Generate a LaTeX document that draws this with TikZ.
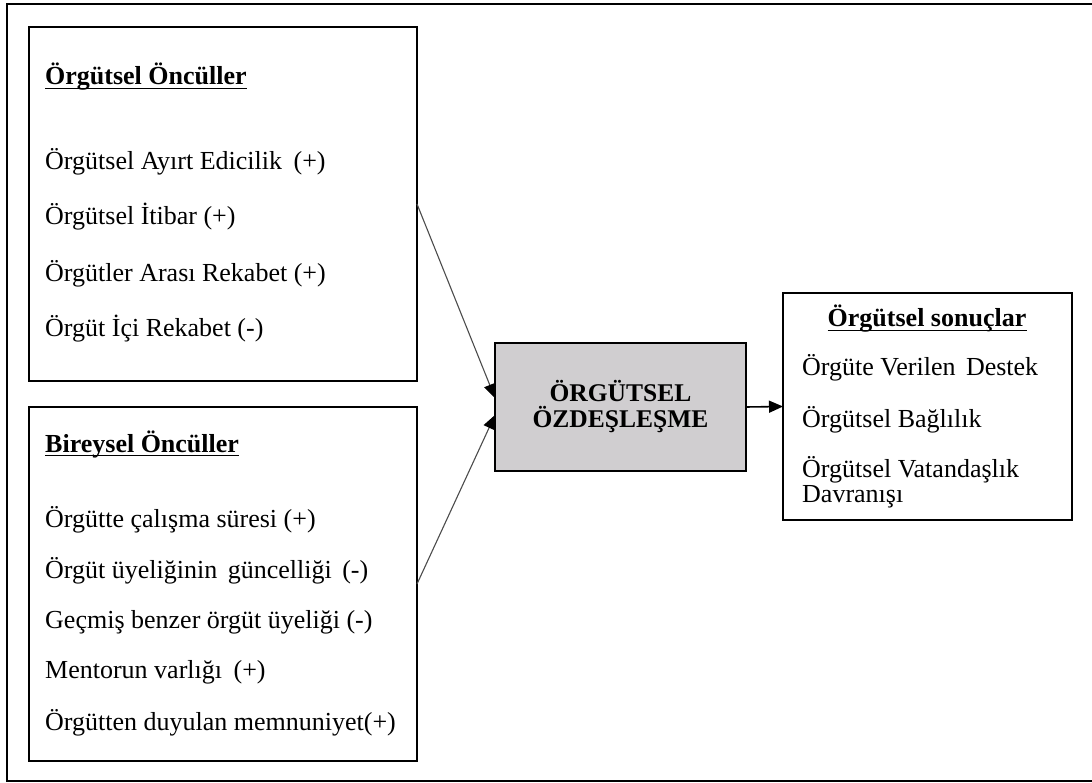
\documentclass[tikz,border=0pt]{standalone}
\usepackage{fontspec}
\setmainfont{Liberation Serif}
\usetikzlibrary{arrows.meta}
\definecolor{boxgray}{RGB}{208,206,208}
\begin{document}
\begin{tikzpicture}[x=1pt,y=-1pt,
  frame/.style={draw=black,line width=2pt,inner sep=0pt,outer sep=0pt,anchor=north west},
  txt/.style={anchor=base west,inner sep=0pt,font=\fontsize{26}{26}\selectfont},
  ttl/.style={anchor=base west,inner sep=0pt,font=\fontsize{26}{26}\selectfont\bfseries},
  uline/.style={line width=1.4pt},
  link/.style={draw=black!70,line width=1.1pt,-{Triangle[length=14pt,width=12pt,color=black]}},
  flow/.style={draw=black,line width=1.6pt,-{Triangle[length=14pt,width=12pt]}},
]
\useasboundingbox (0,0) rectangle (1092,783);
\draw[line width=2.5pt] (1092,4) -- (7,4) -- (7,781) -- (1092,781);

% boxes
\node[frame,minimum width=388pt,minimum height=354pt] (tl) at (29,27) {};
\node[frame,minimum width=388pt,minimum height=354pt] (bl) at (29,407) {};
\node[frame,fill=boxgray,minimum width=251pt,minimum height=128pt,
      font=\fontsize{25.5}{26}\selectfont\bfseries,align=center] (gz) at (495,343)
      {ÖRGÜTSEL\\ÖZDEŞLEŞME};
\node[frame,minimum width=289pt,minimum height=227pt] (rb) at (783,293) {};

% top-left texts
\node[ttl] (t0) at (45,85) {Örgütsel Öncüller};
\node[txt] (t1) at (45,170) {Örgütsel Ayırt Edicilik\hspace{5pt} (+)};
\node[txt] (t2) at (45,225) {Örgütsel İtibar (+)};
\node[txt] (t3) at (45,282) {Örgütler Arası Rekabet (+)};
\node[txt] (t4) at (45,337) {Örgüt İçi Rekabet (-)};

% bottom-left texts
\node[ttl] (b0) at (45,452) {Bireysel Öncüller};
\node[txt] (b1) at (45,527) {Örgütte çalışma süresi (+)};
\node[txt] (b2) at (45,578) {Örgüt üyeliğinin\hspace{4pt} güncelliği\hspace{4pt} (-)};
\node[txt] (b3) at (45,628) {Geçmiş benzer örgüt üyeliği (-)};
\node[txt] (b4) at (45,678) {Mentorun varlığı\hspace{5pt} (+)};
\node[txt] (b5) at (45,730) {Örgütten duyulan memnuniyet(+)};

% right texts
\node[ttl,anchor=base] (r0) at (927,327) {Örgütsel sonuçlar};
\node[txt] (r1) at (802,375) {Örgüte Verilen\hspace{4pt} Destek};
\node[txt] (r2) at (802,427) {Örgütsel Bağlılık};
\node[txt] (r3) at (802,477) {Örgütsel Vatandaşlık};
\node[txt] (r4) at (802,502) {Davranışı};

% underlines
\draw[uline] ([yshift=-3.5pt]t0.base west) -- ([yshift=-3.5pt]t0.base east);
\draw[uline] ([yshift=-3.5pt]b0.base west) -- ([yshift=-3.5pt]b0.base east);
\draw[uline] ([yshift=-3.5pt]r0.base west) -- ([yshift=-3.5pt]r0.base east);

% connectors
\draw[link] (tl.east) -- ([yshift=9pt]gz.west);
\draw[link] (bl.east) -- ([yshift=-8pt]gz.west);
\draw[flow] (gz.east) -- (rb.west);
\end{tikzpicture}
\end{document}
